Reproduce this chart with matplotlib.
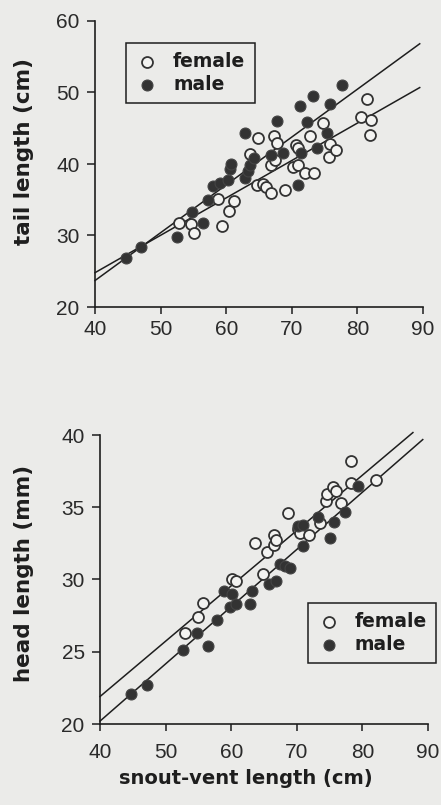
import matplotlib.pyplot as plt
import numpy as np

# --- data ---
# tail length (cm) vs snout-vent length (cm)
tail_f_svl = [52.8, 54.7, 55.1, 58.8, 59.3, 60.4, 61.2, 63.7, 64.9, 64.7, 65.6,
              66.1, 66.9, 66.9, 67.3, 67.5, 67.7, 68.9, 70.2, 70.6, 71.0, 71.0,
              72.0, 72.7, 73.4, 74.8, 75.8, 75.7, 76.8, 80.6, 81.4, 82.1, 81.9]
tail_f = [31.8, 31.6, 30.4, 35.1, 31.3, 33.4, 34.8, 41.4, 43.7, 37.1, 37.2,
          36.8, 36.0, 39.9, 43.9, 40.6, 42.9, 36.4, 39.6, 42.7, 42.2, 39.9,
          38.8, 43.9, 38.8, 45.8, 42.8, 41.0, 42.0, 46.6, 49.1, 46.2, 44.1]
tail_m_svl = [44.7, 47.0, 52.5, 54.8, 56.4, 57.3, 58.0, 59.1, 60.2, 60.6, 60.8,
              62.8, 62.9, 63.3, 63.6, 64.2, 66.9, 67.8, 68.7, 71.2, 71.0, 71.4,
              72.3, 73.3, 73.9, 75.4, 75.8, 77.6]
tail_m = [26.9, 28.4, 29.8, 33.3, 31.8, 34.9, 36.9, 37.4, 37.8, 39.3, 40.0,
          44.3, 38.0, 39.0, 39.8, 40.8, 41.3, 46.0, 41.6, 48.1, 37.1, 41.6,
          45.9, 49.5, 42.3, 44.4, 48.4, 51.1]

# head length (mm) vs snout-vent length (cm)
head_f_svl = [52.9, 55.0, 55.7, 60.1, 60.8, 63.6, 64.8, 65.5, 66.5, 66.6, 66.8,
              68.7, 70.2, 70.5, 71.8, 73.5, 74.5, 74.6, 75.5, 76.0, 76.8, 78.3,
              78.3, 82.0]
head_f = [26.3, 27.4, 28.4, 30.0, 29.9, 32.5, 30.4, 31.9, 32.4, 33.1, 32.7,
          34.6, 33.5, 33.2, 33.1, 33.9, 35.4, 35.9, 36.4, 36.1, 35.3, 38.2,
          36.7, 36.9]
head_m_svl = [44.7, 47.1, 52.7, 54.8, 56.4, 57.9, 58.9, 59.8, 60.1, 60.8, 62.8,
              63.2, 65.8, 66.9, 67.5, 68.2, 69.0, 71.0, 70.2, 71.0, 73.2, 75.0,
              75.6, 77.4, 79.4]
head_m = [22.1, 22.7, 25.1, 26.3, 25.4, 27.2, 29.2, 28.1, 29.0, 28.3, 28.3,
          29.2, 29.7, 29.9, 31.1, 30.9, 30.8, 32.3, 33.7, 33.8, 34.3, 32.9,
          34.0, 34.7, 36.5]

# regression lines: (intercept, slope, x start, x end)
tail_fit_f = (3.88, 0.523, 40, 89.5)
tail_fit_m = (-3.06, 0.669, 40, 89.5)
head_fit_f = (6.58, 0.383, 40, 87.7)
head_fit_m = (4.36, 0.396, 40, 89.2)

xticks = [40, 50, 60, 70, 80, 90]

bg = '#ebebe9'
ink = '#1e1e1e'
dark = '#333333'
label_font = 'DejaVu Sans'
tick_font = 'Liberation Sans'

fig = plt.figure(figsize=(4.41, 8.05), dpi=100, facecolor=bg)


def panel(rect, fx, fy, mx, my, fit_f, fit_m, ylim, yticks, ylabel, leg_xy, xpad):
    ax = fig.add_axes(rect, facecolor=bg)
    for fit in (fit_m, fit_f):
        a, b, x0, x1 = fit
        xs = np.array([x0, x1])
        ax.plot(xs, a + b * xs, color=ink, lw=1.1, clip_on=False, zorder=2)
    ax.scatter(fx, fy, s=62, facecolor='#f3f3f1', edgecolor=dark, lw=1.3,
               zorder=3, label='female', clip_on=False)
    ax.scatter(mx, my, s=62, facecolor=dark, edgecolor='#444444', lw=0.8,
               zorder=4, label='male', clip_on=False)
    ax.set_xlim(40, 90)
    ax.set_ylim(*ylim)
    ax.set_xticks(xticks)
    ax.set_yticks(yticks)
    for s in ('top', 'right'):
        ax.spines[s].set_visible(False)
    for s in ('left', 'bottom'):
        ax.spines[s].set_linewidth(1.2)
        ax.spines[s].set_color(ink)
    ax.tick_params(axis='y', direction='out', length=6, width=1.1, pad=5,
                   colors=ink, labelsize=15)
    ax.tick_params(axis='x', direction='out', length=5, width=1.1, pad=xpad,
                   colors=ink, labelsize=15)
    for t in ax.get_xticklabels() + ax.get_yticklabels():
        t.set_fontfamily(tick_font)
        t.set_color('#2a2a2a')
    ax.set_ylabel(ylabel, fontsize=15.5, fontweight='bold', family=label_font,
                  color=ink, va='center')
    leg = ax.legend(loc='upper left', bbox_to_anchor=leg_xy, frameon=True,
                    fancybox=False, edgecolor=ink, facecolor=bg, framealpha=1,
                    prop={'family': label_font, 'weight': 'bold', 'size': 13.5},
                    handletextpad=0.8, labelspacing=0.2, borderpad=0.5,
                    handlelength=1.2, borderaxespad=0)
    leg.get_frame().set_linewidth(1.1)
    for t in leg.get_texts():
        t.set_color(ink)
    return ax


ax1 = panel([95 / 441, 1 - 307 / 805, 328 / 441, 286 / 805],
            tail_f_svl, tail_f, tail_m_svl, tail_m, tail_fit_f, tail_fit_m,
            (20, 60), [20, 30, 40, 50, 60], 'tail length (cm)', (0.095, 0.924), 4)
ax1.yaxis.set_label_coords(-0.216, 0.545)

ax2 = panel([100 / 441, 1 - 724 / 805, 328 / 441, 289 / 805],
            head_f_svl, head_f, head_m_svl, head_m, head_fit_f, head_fit_m,
            (20, 40), [20, 25, 30, 35, 40], 'head length (mm)', (0.634, 0.419), 9)
ax2.yaxis.set_label_coords(-0.232, 0.52)
ax2.set_xlabel('snout-vent length (cm)', fontsize=14, fontweight='bold',
               family=label_font, color=ink, va='center')
ax2.xaxis.set_label_coords(0.445, -0.187)

fig.savefig('out.png', dpi=100, facecolor=bg)
